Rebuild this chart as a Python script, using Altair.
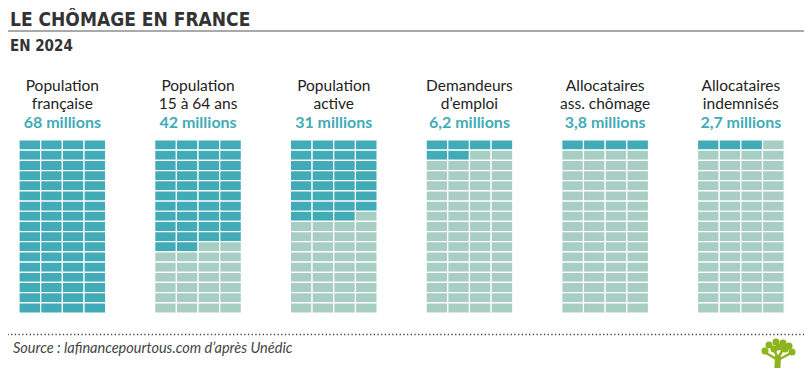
import altair as alt
import pandas as pd

# ---- data ----
line1 = ["Population", "Population", "Population", "Demandeurs", "Allocataires", "Allocataires"]
line2 = ["française", "15 à 64 ans", "active", "d\u2019emploi", "ass. chômage", "indemnisés"]
values = [68, 42, 31, 6.2, 3.8, 2.7]
value_labels = ["68 millions", "42 millions", "31 millions", "6,2 millions", "3,8 millions", "2,7 millions"]
n_cols = 4
n_rows = 17

title_text = "LE CHÔMAGE EN FRANCE"
subtitle_text = "EN 2024"
source_text = "Source : lafinancepourtous.com d\u2019après Unédic"

# ---- layout (chart pixel space) ----
W, H = 796, 360
LEFT0, STEP = 11.0, 135.7
TOP = 132.0
CW = 86.7 / n_cols
CH = 173.0 / n_rows

TEAL = "#41abb7"
PALE = "#a8cec3"
GREEN = "#8db31d"

cells = []
for p, v in enumerate(values):
    filled = int(round(v))
    for r in range(n_rows):
        for c in range(n_cols):
            idx = r * n_cols + c
            x = LEFT0 + p * STEP + c * CW
            y = TOP + r * CH
            cells.append({"x": x, "x2": x + CW, "y": y, "y2": y + CH,
                          "state": "on" if idx < filled else "off"})
cells = pd.DataFrame(cells)

centers = [LEFT0 + p * STEP + n_cols * CW / 2 for p in range(len(values))]
labels = pd.DataFrame({"x": centers * 2, "y": [83] * 6 + [101] * 6, "text": line1 + line2})
vals = pd.DataFrame({"x": centers, "y": [120] * 6, "text": value_labels})

xs = alt.Scale(domain=[0, W], range=[0, W], nice=False, zero=False)
ys = alt.Scale(domain=[0, H], range=[0, H], nice=False, zero=False)
X = lambda f: alt.X(f, type="quantitative", scale=xs, axis=None)
Y = lambda f: alt.Y(f, type="quantitative", scale=ys, axis=None)

grid = alt.Chart(cells).mark_rect(stroke="white", strokeWidth=1.2).encode(
    x=X("x"), x2="x2", y=Y("y"), y2="y2",
    color=alt.Color("state:N", scale=alt.Scale(domain=["on", "off"], range=[TEAL, PALE]), legend=None),
)

lab = alt.Chart(labels).mark_text(font="Lato", fontSize=15.5, color="#222222",
                                  align="center", baseline="alphabetic").encode(
    x=X("x"), y=Y("y"), text="text:N")
val = alt.Chart(vals).mark_text(font="Lato", fontSize=16, fontWeight="bold", color=TEAL,
                                align="center", baseline="alphabetic").encode(
    x=X("x"), y=Y("y"), text="text:N")

title = alt.Chart(pd.DataFrame({"x": [2], "y": [18], "text": [title_text]})).mark_text(
    font="DejaVu Sans Condensed", fontSize=19, fontWeight="bold", color="#333333",
    align="left", baseline="alphabetic").encode(x=X("x"), y=Y("y"), text="text:N")
sub = alt.Chart(pd.DataFrame({"x": [2], "y": [43], "text": [subtitle_text]})).mark_text(
    font="DejaVu Sans Condensed", fontSize=15, fontWeight="bold", color="#333333",
    align="left", baseline="alphabetic").encode(x=X("x"), y=Y("y"), text="text:N")

hline = alt.Chart(pd.DataFrame({"x": [-8], "x2": [W + 8], "y": [23]})).mark_rule(
    color="#555555", strokeWidth=1).encode(x=X("x"), x2="x2", y=Y("y"))
dline = alt.Chart(pd.DataFrame({"x": [-8], "x2": [W + 8], "y": [326.5]})).mark_rule(
    color="#444444", strokeWidth=1.3, strokeDash=[1.3, 2.4]).encode(x=X("x"), x2="x2", y=Y("y"))

src = alt.Chart(pd.DataFrame({"x": [5], "y": [345], "text": [source_text]})).mark_text(
    font="Lato", fontSize=14.5, fontStyle="italic", color="#444444",
    align="left", baseline="alphabetic").encode(x=X("x"), y=Y("y"), text="text:N")

# small tree logo (decoration)
leaf = pd.DataFrame({"x": [757, 761, 768, 775, 781, 784, 766, 777, 771],
                     "y": [343, 337, 334, 335, 338, 344, 341, 341, 339]})
branches = pd.DataFrame({"x": [770, 770, 770, 770], "y": [352, 352, 350, 350],
                         "x2": [758, 783, 764, 777], "y2": [345, 345, 338, 338]})
trunk = pd.DataFrame({"x": [770], "y": [348], "x2": [769], "y2": [368]})
leaves = alt.Chart(leaf).mark_circle(color=GREEN, size=50, opacity=1).encode(x=X("x"), y=Y("y"))
br = alt.Chart(branches).mark_rule(color=GREEN, strokeWidth=2.5).encode(
    x=X("x"), y=Y("y"), x2="x2", y2="y2")
trk = alt.Chart(trunk).mark_rule(color=GREEN, strokeWidth=6).encode(
    x=X("x"), y=Y("y"), x2="x2", y2="y2")

chart = alt.layer(grid, lab, val, title, sub, hline, dline, src, br, trk, leaves).properties(
    width=W, height=H, autosize=alt.AutoSizeParams(type="none"), padding=0,
    background="white",
).configure_view(stroke=None)

chart.save("out.html", embed_options={"renderer": "svg", "actions": False})
